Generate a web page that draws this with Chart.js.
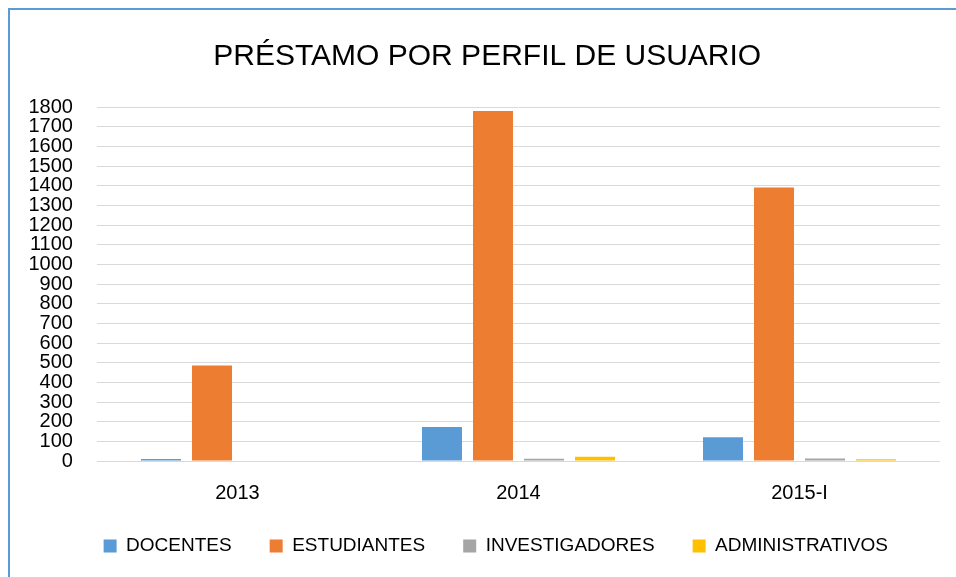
<!DOCTYPE html>
<html>
<head>
<meta charset="utf-8">
<script src="https://cdn.jsdelivr.net/npm/chart.js@4/dist/chart.umd.min.js"></script>
<style>
  html, body { margin: 0; padding: 0; background: #fff; overflow: hidden; }
  #wrap { position: absolute; left: 0; top: 0; width: 956px; height: 577px; }
  #frame { position: absolute; left: 8px; top: 8px; width: 1200px; height: 900px;
           border-left: 2px solid #5b9bd5; border-top: 2px solid #5b9bd5; pointer-events: none; }
</style>
</head>
<body>
<div id="wrap">
  <canvas id="c" width="956" height="577"></canvas>
  <div id="frame"></div>
</div>
<script>
const categories = ['2013', '2014', '2015-I'];
const docentes = [10, 173, 121];
const estudiantes = [486, 1780, 1391];
const investigadores = [0, 12, 13];
const administrativos = [3, 22, 9];
const seriesNames = ['DOCENTES', 'ESTUDIANTES', 'INVESTIGADORES', 'ADMINISTRATIVOS'];
const seriesColors = ['#5b9bd5', '#ed7d31', '#a5a5a5', '#ffc000'];
const titleText = 'PRÉSTAMO POR PERFIL DE USUARIO';

const FONT = "'Liberation Sans', Arial, sans-serif";
const seriesValues = [docentes, estudiantes, investigadores, administrativos];

// Legend: wide horizontal spacing between items, but compact vertical box
const LEGEND_GAP = 38;
const LEGEND_VPAD = 11.5;
const LEGEND_DX = 23.5;
const TITLE_DX = 15;
function shiftDraw(box, dx, dy) {
  const draw = box.draw;
  box.draw = function () {
    const t = this.top, l = this.left, r = this.right;
    this.top = t + dy;
    this.left = l + dx; this.right = r + dx;
    draw.apply(this, arguments);
    this.top = t; this.left = l; this.right = r;
  };
}
const layoutTweak = {
  id: 'layoutTweak',
  beforeInit(chart) {
    const lg = chart.legend;
    if (lg) {
      const fit = lg.fit;
      lg.fit = function () {
        fit.call(this);
        this.height = 19 + LEGEND_VPAD + 10;
      };
      shiftDraw(lg, LEGEND_DX, -(LEGEND_GAP - LEGEND_VPAD));
    }
    if (chart.titleBlock) shiftDraw(chart.titleBlock, TITLE_DX, 0);
  }
};

new Chart(document.getElementById('c'), {
  type: 'bar',
  data: {
    labels: categories,
    datasets: seriesNames.map((n, i) => ({
      label: n,
      data: seriesValues[i],
      backgroundColor: seriesColors[i],
      borderWidth: 0,
      categoryPercentage: 0.726,
      barPercentage: 0.784
    }))
  },
  plugins: [layoutTweak],
  options: {
    responsive: false,
    devicePixelRatio: 1,
    animation: false,
    layout: { padding: { top: 30, left: 4.5, right: 16, bottom: 11.5 } },
    plugins: {
      title: {
        display: true,
        text: titleText,
        color: '#000',
        font: { family: FONT, size: 30, weight: 'normal' },
        padding: { top: 9, bottom: 32 }
      },
      legend: {
        position: 'bottom',
        labels: {
          color: '#000',
          font: { family: FONT, size: 19 },
          boxWidth: 13,
          boxHeight: 13,
          padding: LEGEND_GAP
        }
      },
      tooltip: { enabled: false }
    },
    scales: {
      x: {
        grid: { display: false, drawTicks: false },
        border: { display: false },
        ticks: { color: '#000', font: { family: FONT, size: 20 }, padding: 20 }
      },
      y: {
        min: 0,
        max: 1800,
        grid: { color: '#d9d9d9', lineWidth: 1, drawTicks: false },
        border: { display: false },
        ticks: {
          stepSize: 100,
          autoSkip: false,
          color: '#000',
          font: { family: FONT, size: 20 },
          padding: 24,
          callback: (v) => String(v)
        }
      }
    }
  }
});
</script>
</body>
</html>
